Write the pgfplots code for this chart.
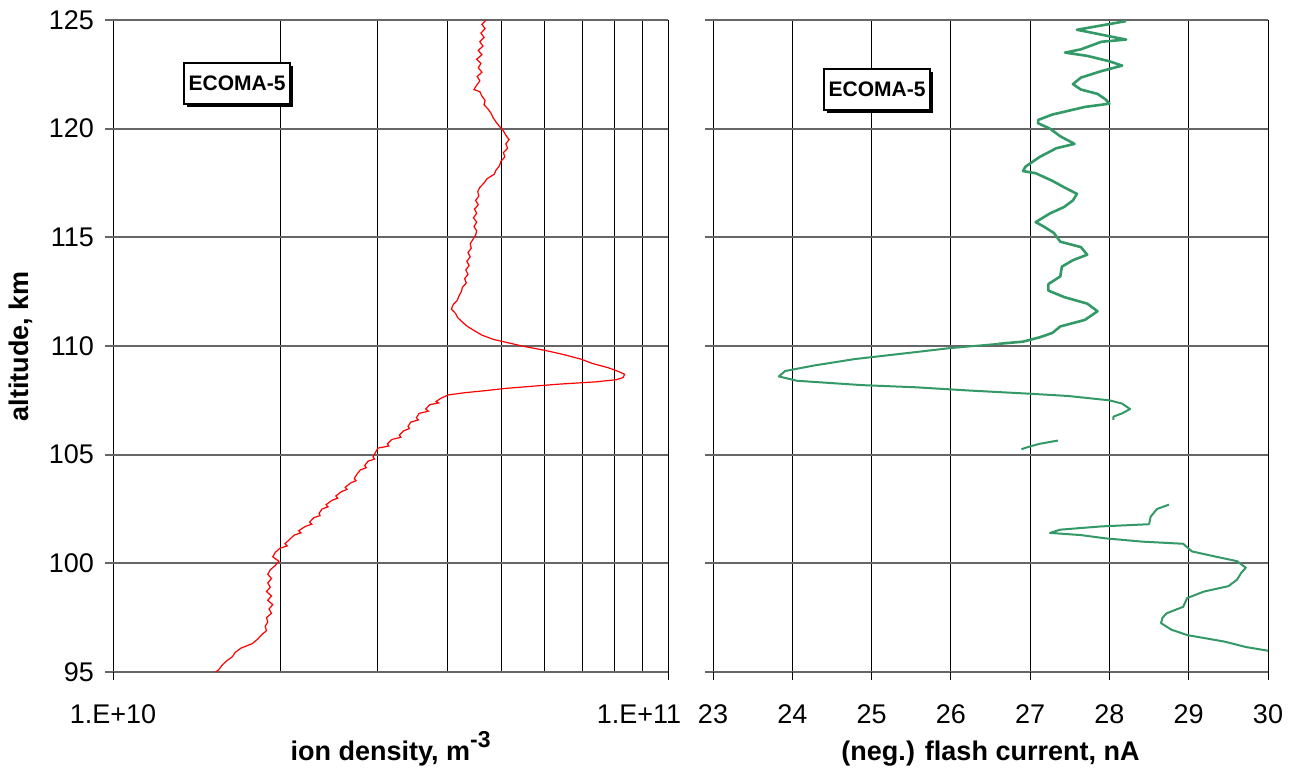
\documentclass[border=0pt]{standalone}
\usepackage{pgfplots}
\pgfplotsset{compat=1.18}
\usepackage{fontspec}
\setmainfont{Liberation Sans}
\usetikzlibrary{shadows}
\definecolor{ecgreen}{RGB}{51,153,102}

\pgfplotstableread{
dens alt
4.70e10 125.0
4.62e10 124.8
4.68e10 124.6
4.60e10 124.4
4.66e10 124.2
4.58e10 124.0
4.64e10 123.8
4.55e10 123.6
4.62e10 123.4
4.52e10 123.2
4.60e10 123.0
4.55e10 122.8
4.62e10 122.6
4.53e10 122.4
4.58e10 122.2
4.52e10 122.0
4.47e10 121.8
4.58e10 121.7
4.62e10 121.5
4.68e10 121.3
4.66e10 121.1
4.74e10 120.9
4.80e10 120.7
4.84e10 120.5
4.90e10 120.3
4.97e10 120.1
5.05e10 119.9
5.10e10 119.7
5.17e10 119.5
5.10e10 119.3
5.14e10 119.1
5.05e10 118.9
5.08e10 118.7
5.00e10 118.5
4.97e10 118.3
4.90e10 118.1
4.86e10 117.9
4.72e10 117.7
4.66e10 117.5
4.58e10 117.3
4.54e10 117.1
4.56e10 116.9
4.50e10 116.7
4.55e10 116.5
4.48e10 116.3
4.52e10 116.1
4.46e10 115.9
4.52e10 115.7
4.47e10 115.5
4.52e10 115.3
4.50e10 115.1
4.45e10 114.9
4.40e10 114.7
4.42e10 114.5
4.36e10 114.3
4.40e10 114.1
4.34e10 113.9
4.38e10 113.7
4.32e10 113.5
4.36e10 113.3
4.30e10 113.1
4.33e10 112.9
4.26e10 112.7
4.24e10 112.5
4.20e10 112.3
4.17e10 112.1
4.10e10 111.9
4.07e10 111.7
4.14e10 111.5
4.18e10 111.3
4.26e10 111.1
4.35e10 110.9
4.48e10 110.7
4.62e10 110.5
4.85e10 110.3
5.25e10 110.1
5.45e10 110.0
6.00e10 109.8
6.50e10 109.6
6.96e10 109.4
7.30e10 109.2
7.80e10 109.0
8.10e10 108.85
8.35e10 108.7
8.30e10 108.55
8.07e10 108.45
7.40e10 108.35
6.40e10 108.25
5.70e10 108.15
5.10e10 108.05
4.70e10 107.95
4.30e10 107.85
4.02e10 107.75
3.90e10 107.6
3.82e10 107.45
3.86e10 107.38
3.72e10 107.3
3.66e10 107.1
3.70e10 107.0
3.56e10 106.9
3.52e10 106.7
3.55e10 106.6
3.44e10 106.5
3.40e10 106.3
3.42e10 106.2
3.34e10 106.1
3.28e10 105.9
3.30e10 105.8
3.18e10 105.7
3.12e10 105.5
3.14e10 105.4
3.00e10 105.3
2.97e10 105.1
2.94e10 104.9
2.96e10 104.8
2.88e10 104.7
2.84e10 104.5
2.86e10 104.4
2.79e10 104.3
2.75e10 104.1
2.72e10 103.9
2.74e10 103.8
2.68e10 103.7
2.62e10 103.5
2.64e10 103.4
2.58e10 103.3
2.52e10 103.1
2.54e10 103.0
2.48e10 102.9
2.42e10 102.7
2.44e10 102.6
2.38e10 102.5
2.35e10 102.3
2.36e10 102.2
2.30e10 102.1
2.26e10 101.9
2.28e10 101.8
2.22e10 101.7
2.16e10 101.5
2.18e10 101.4
2.12e10 101.3
2.08e10 101.1
2.04e10 100.9
2.06e10 100.8
2.00e10 100.7
1.96e10 100.5
1.94e10 100.3
1.99e10 100.1
1.96e10 99.9
1.92e10 99.7
1.90e10 99.5
1.93e10 99.3
1.90e10 99.1
1.92e10 98.9
1.89e10 98.7
1.93e10 98.5
1.90e10 98.3
1.94e10 98.1
1.91e10 97.9
1.93e10 97.7
1.89e10 97.5
1.90e10 97.3
1.88e10 97.1
1.89e10 96.9
1.85e10 96.7
1.82e10 96.5
1.78e10 96.3
1.70e10 96.1
1.66e10 95.9
1.64e10 95.7
1.60e10 95.5
1.57e10 95.3
1.55e10 95.1
1.53e10 95.0
}\iondata

\pgfplotstableread{
cur alt
28.21 124.95
27.90 124.75
27.59 124.55
27.80 124.40
28.00 124.25
28.21 124.10
27.90 124.00
27.64 123.65
27.44 123.50
27.72 123.35
28.00 123.10
28.16 122.90
27.90 122.65
27.64 122.35
27.54 122.05
27.64 121.80
27.85 121.60
27.95 121.35
28.00 121.15
27.69 121.00
27.28 120.65
27.10 120.40
27.10 120.25
27.25 120.00
27.38 119.65
27.56 119.30
27.33 119.10
27.12 118.70
26.94 118.25
26.91 118.05
27.07 117.95
27.28 117.60
27.43 117.30
27.59 117.00
27.54 116.70
27.43 116.40
27.25 116.10
27.07 115.70
27.17 115.50
27.30 115.20
27.38 114.80
27.64 114.55
27.72 114.20
27.54 113.95
27.40 113.65
27.38 113.20
27.23 112.85
27.23 112.55
27.43 112.25
27.72 111.95
27.85 111.60
27.69 111.20
27.38 110.90
27.28 110.60
27.12 110.40
26.91 110.20
26.60 110.10
}\greenA

\pgfplotstableread{
cur alt
26.60 110.10
25.98 109.90
25.51 109.70
24.79 109.40
24.27 109.10
23.91 108.85
23.83 108.60
24.06 108.40
24.88 108.20
25.56 108.10
26.24 107.95
27.02 107.80
27.48 107.70
28.00 107.50
28.16 107.35
28.26 107.10
28.16 106.90
28.05 106.75
28.05 106.60
}\greenB

\pgfplotstableread{
cur alt
27.35 105.65
27.12 105.50
26.97 105.35
26.89 105.25
}\greenC

\pgfplotstableread{
cur alt
28.75 102.70
28.60 102.50
28.52 102.15
28.50 101.80
27.90 101.70
27.38 101.55
27.25 101.40
27.64 101.30
27.95 101.15
28.41 101.00
28.93 100.90
29.04 100.55
29.35 100.30
29.61 100.10
29.72 99.80
29.66 99.55
29.61 99.25
29.50 98.95
29.19 98.70
28.98 98.40
28.93 98.00
28.72 97.70
28.67 97.50
28.65 97.25
28.78 96.95
28.98 96.70
29.45 96.40
29.72 96.15
30.00 95.98
}\greenD

\pgfplotsset{
  myaxis/.style={
    scale only axis, width=277.5pt, height=326pt,
    ymin=95, ymax=125, ytick={95,100,...,125},
    axis line style={draw=none},
    tick align=outside, major tick length=4pt, minor tick length=0pt,
    xtick pos=bottom, ytick pos=left,
    ymajorgrids, xmajorgrids,
    major x grid style={black, line width=0.5pt},
    minor x grid style={black, line width=0.5pt},
    major y grid style={black!60, line width=1pt},
    xtick style={black, line width=0.5pt},
    ytick style={black!60, line width=1pt},
    tick label style={font=\fontsize{13.5}{15}\selectfont},
    /pgf/number format/assume math mode=true,
    xticklabel style={yshift=-9pt},
    yticklabel style={xshift=-2pt},
    every axis x label/.style={at={(rel axis cs:0.5,0)}, anchor=base, yshift=-44pt, font=\bfseries\fontsize{13.5}{15}\selectfont},
  },
}
\tikzset{
  ecbox/.style={draw=black, line width=0.6pt, fill=white,
    drop shadow={shadow xshift=1.6pt, shadow yshift=-1.6pt, fill=black, opacity=1},
    minimum width=53pt, minimum height=20.5pt, inner sep=0pt,
    font=\bfseries\fontsize{10.5}{12}\selectfont},
}

\begin{document}
\begin{tikzpicture}
\useasboundingbox (0,0) rectangle (647.5pt,383.5pt);

\begin{axis}[myaxis, at={(56.5pt,47.5pt)}, anchor=south west,
  xmode=log, xmin=1e10, xmax=1e11,
  xtick={1e10,1e11}, xticklabels={1.E+10,\makebox[13pt][r]{1.E+11}},
  minor xtick={2e10,3e10,4e10,5e10,6e10,7e10,8e10,9e10},
  xminorgrids,
  xlabel={ion density, m\raisebox{0.45em}{\fontsize{11.5}{12}\selectfont -3}},
]
\addplot[red, line width=0.6pt] table[x=dens, y=alt] {\iondata};
\node[ecbox] at (rel axis cs:0.2234,0.9026) {ECOMA-5};
\end{axis}

\begin{axis}[myaxis, at={(356.5pt,47.5pt)}, anchor=south west,
  xmin=23, xmax=30, xtick={23,24,...,30},
  yticklabels={},
  xlabel={(neg.) flash current, nA},
]
\addplot[ecgreen, line width=1.3pt, line join=round] table[x=cur, y=alt] {\greenA};
\addplot[ecgreen, line width=1pt, line join=round] table[x=cur, y=alt] {\greenB};
\addplot[ecgreen, line width=1pt, line join=round] table[x=cur, y=alt] {\greenC};
\addplot[ecgreen, line width=1pt, line join=round] table[x=cur, y=alt] {\greenD};
\node[ecbox] at (rel axis cs:0.2955,0.8934) {ECOMA-5};
\end{axis}

\node[rotate=90, font=\bfseries\fontsize{13.5}{15}\selectfont] at (10.5pt,210.5pt) {altitude, km};
\end{tikzpicture}
\end{document}
